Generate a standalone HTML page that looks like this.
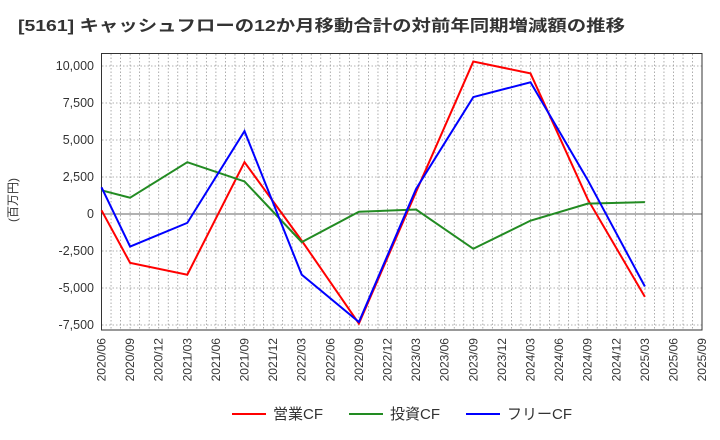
<!DOCTYPE html>
<html><head><meta charset="utf-8"><style>body{margin:0;background:#fff}svg{display:block;font-family:"Liberation Sans","Noto Sans CJK JP",sans-serif}</style></head><body>
<svg width="720" height="440" xmlns="http://www.w3.org/2000/svg">
<text x="18" y="31" font-size="16" font-weight="bold" fill="#333" textLength="607" lengthAdjust="spacingAndGlyphs">[5161]  キャッシュフローの12か月移動合計の対前年同期増減額の推移</text>
<g id="grid" stroke="#999" stroke-width="0.8" stroke-dasharray="1.5,2"></g>
<line x1="101.5" y1="214" x2="702" y2="214" stroke="#666" stroke-width="1"/>
<rect x="101.5" y="53.5" width="600.5" height="276.5" fill="none" stroke="#333" stroke-width="1"/>
<g id="yl" font-size="12.5" fill="#333" text-anchor="end"></g>
<g id="xl" font-size="12" fill="#333"></g>
<text transform="translate(17,200) rotate(-90)" font-size="12" fill="#333" text-anchor="middle">(百万円)</text>
<g id="lines" fill="none" stroke-width="2"></g>
<g font-size="15" fill="#333">
<line x1="232" y1="414" x2="266" y2="414" stroke="#f00" stroke-width="2"/><text x="273" y="419">営業CF</text>
<line x1="349" y1="414" x2="383" y2="414" stroke="#228B22" stroke-width="2"/><text x="390" y="419">投資CF</text>
<line x1="466" y1="414" x2="500" y2="414" stroke="#00f" stroke-width="2"/><text x="507" y="419">フリーCF</text>
</g>
<script>
const ns="http://www.w3.org/2000/svg";
function el(p,t,a,txt){const e=document.createElementNS(ns,t);for(const k in a)e.setAttribute(k,a[k]);if(txt!==undefined)e.textContent=txt;document.getElementById(p).appendChild(e);}
const X=i=>101.5+28.6*i, Y=v=>214-v*0.0148;
for(let m=1;m<63;m++){const x=101.5+28.6*m/3;el("grid","line",{x1:x,y1:54,x2:x,y2:330});}
for(let v=-7500;v<=10000;v+=2500){if(v)el("grid","line",{x1:102,y1:Y(v),x2:702,y2:Y(v)});el("yl","text",{x:94,y:Y(v)+4},v.toLocaleString("en-US"));}
for(let i=0;i<=21;i++){const yr=2020+Math.floor((i*3+5)/12),mo=((i*3+5)%12)+1;const s=yr+"/"+(mo<10?"0":"")+mo;const x=X(i)+4;el("xl","text",{transform:`translate(${x},338) rotate(-90)`,"text-anchor":"end"},s);}
const idx=[0,1,3,5,7,9,11,13,15,17,19];
const d={"#f00":[250,-3300,-4100,3500,-1800,-7400,1500,10300,9500,1000,-5600],
"#228B22":[1600,1100,3500,2200,-1900,150,300,-2350,-450,700,800],
"#00f":[1800,-2200,-600,5600,-4100,-7300,1700,7900,8900,2300,-4900]};
for(const c in d)el("lines","polyline",{stroke:c,points:d[c].map((v,k)=>X(idx[k])+","+Y(v)).join(" ")});
</script>
</svg></body></html>
